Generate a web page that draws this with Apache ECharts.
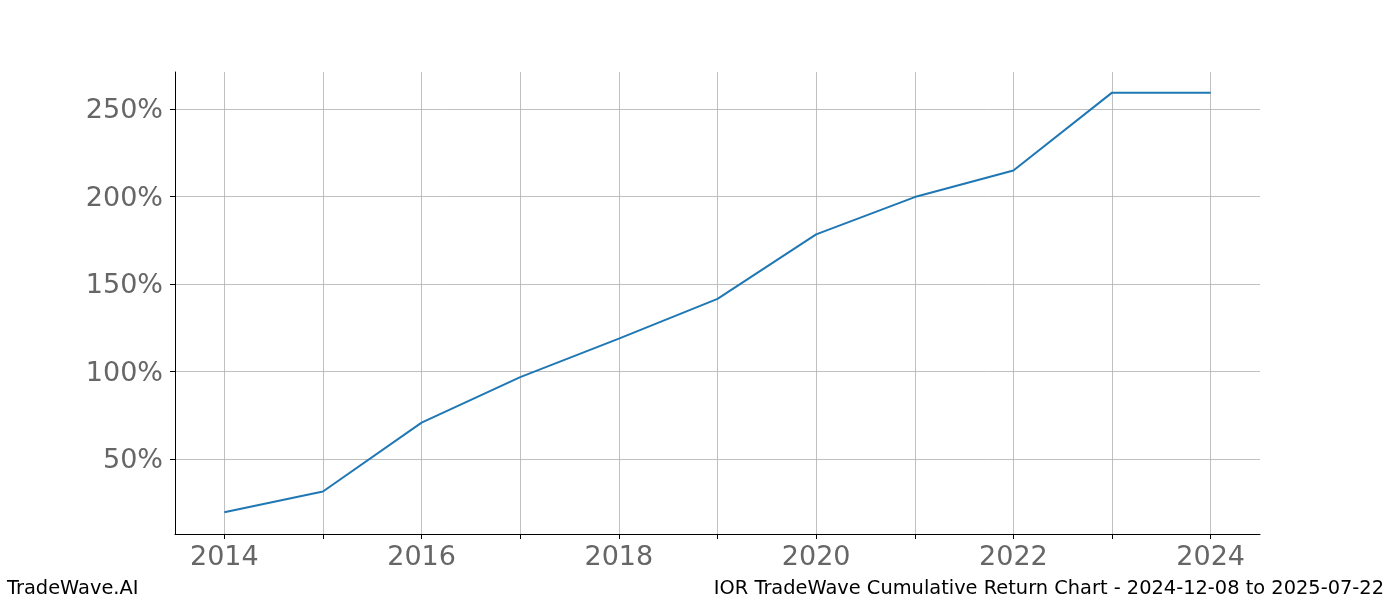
<!DOCTYPE html>
<html>
<head>
<meta charset="utf-8">
<script src="https://cdn.jsdelivr.net/npm/echarts@6/dist/echarts.min.js"></script>
<style>
html,body{margin:0;padding:0;background:#fff;}
#chart{width:1400px;height:600px;}
</style>
</head>
<body>
<div id="chart"></div>
<script>
const years = [2014, 2015, 2016, 2017, 2018, 2019, 2020, 2021, 2022, 2023, 2024];
const returns = [19.6, 31.5, 70.9, 96.9, 118.9, 141.6, 178.5, 199.8, 215.0, 259.5, 259.5];
const xTickValues = [2014, 2015, 2016, 2017, 2018, 2019, 2020, 2021, 2022, 2023, 2024];
const xLabelValues = [2014, 2016, 2018, 2020, 2022, 2024];
const yTickValues = [50, 100, 150, 200, 250];
const footerLeft = 'TradeWave.AI';
const footerRight = 'IOR TradeWave Cumulative Return Chart - 2024-12-08 to 2025-07-22';

const chart = echarts.init(document.getElementById('chart'), null, {renderer: 'canvas'});
const font = 'DejaVu Sans';
chart.setOption({
  animation: false,
  backgroundColor: '#ffffff',
  grid: {left: 175, right: 140, top: 72, bottom: 66, containLabel: false},
  xAxis: {
    type: 'value',
    min: 2013.5,
    max: 2024.5,
    axisLine: {show: true, lineStyle: {color: '#000', width: 1}},
    axisTick: {show: true, length: 5, lineStyle: {color: '#000', width: 1}, customValues: xTickValues},
    axisLabel: {show: true, customValues: xLabelValues, color: '#666666', fontSize: 27, fontFamily: font, margin: 10,
      formatter: v => String(v)},
    splitLine: {show: true, lineStyle: {color: '#b0b0b0', width: 0.8}}
  },
  yAxis: {
    type: 'value',
    min: 7.2,
    max: 271.3,
    axisLine: {show: true, lineStyle: {color: '#000', width: 1}},
    axisTick: {show: true, length: 5, lineStyle: {color: '#000', width: 1}, customValues: yTickValues},
    axisLabel: {show: true, customValues: yTickValues, color: '#666666', fontSize: 27, fontFamily: font, margin: 12,
      formatter: v => '{p|' + v + '%}',
      rich: {p: {color: '#666666', fontSize: 27, fontFamily: font, padding: [4, 0, 0, 0]}}},
    splitLine: {show: true, lineStyle: {color: '#b0b0b0', width: 0.8}}
  },
  series: [{
    type: 'line',
    data: years.map((y, i) => [y, returns[i]]),
    showSymbol: false,
    symbol: 'none',
    lineStyle: {color: '#1f77b4', width: 2},
    itemStyle: {color: '#1f77b4'}
  }],
  graphic: [
    {type: 'text', left: 7, top: 579, style: {text: footerLeft, fill: '#000', font: '19.4px "DejaVu Sans"'}},
    {type: 'text', right: 16, top: 579, style: {text: footerRight, fill: '#000', font: '19.4px "DejaVu Sans"'}}
  ]
});
</script>
</body>
</html>
